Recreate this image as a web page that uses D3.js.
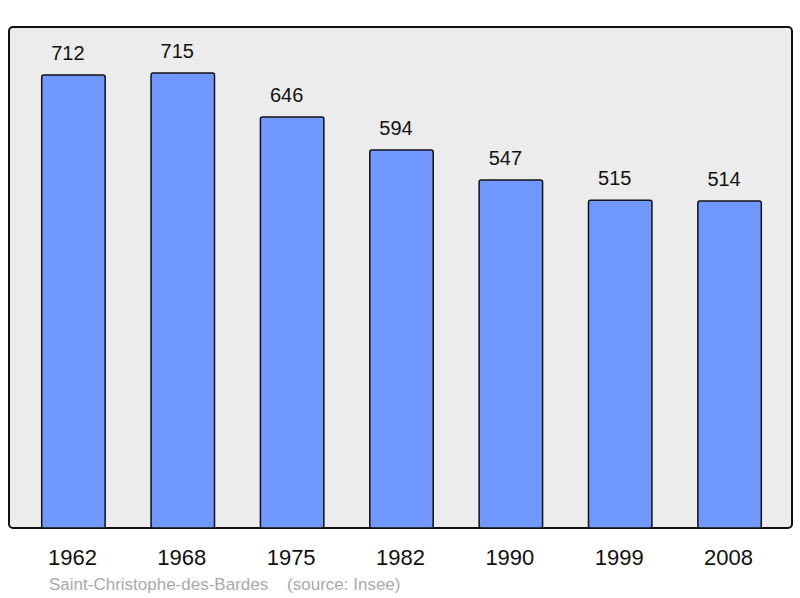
<!DOCTYPE html>
<html><head><meta charset="utf-8">
<script src="https://cdn.jsdelivr.net/npm/d3@7"></script>
<style>body{margin:0;background:#fff}svg{display:block}</style>
</head><body>
<script>
const years = ["1962","1968","1975","1982","1990","1999","2008"];
const population = [712,715,646,594,547,515,514];
const caption = "Saint-Christophe-des-Bardes    (source: Insee)";

(function(){
const W=800,H=598;
const svg=d3.select("body").append("svg").attr("width",W).attr("height",H);
const pL=9,pR=792,pT=27,pB=528;
svg.append("rect").attr("x",pL).attr("y",pT).attr("width",pR-pL).attr("height",pB-pT)
  .attr("rx",4).attr("fill","#ececec").attr("stroke","#111").attr("stroke-width",2);
const x=d3.scaleBand().domain(years).range([pL+1,pR+1]).paddingInner(0.42).paddingOuter(0.29);
const y=d3.scaleLinear().domain([0,715]).range([pB,73]);
const data=years.map((yr,i)=>({yr,v:population[i]}));
svg.selectAll("rect.bar").data(data).join("rect").attr("class","bar")
  .attr("x",d=>x(d.yr)).attr("width",x.bandwidth()).attr("y",d=>y(d.v)).attr("height",d=>pB-y(d.v))
  .attr("rx",2).attr("fill","#7098ff").attr("stroke","#111").attr("stroke-width",1.5);
svg.selectAll("text.val").data(data).join("text").attr("class","val")
  .attr("x",d=>x(d.yr)+x.bandwidth()/2-5.5).attr("y",d=>y(d.v)-15).attr("text-anchor","middle")
  .attr("font-family","Liberation Sans, Arial, sans-serif").attr("font-size",20).attr("fill","#111").text(d=>d.v);
svg.selectAll("text.yr").data(years).join("text").attr("class","yr")
  .attr("x",d=>x(d)+x.bandwidth()/2-1).attr("y",565).attr("text-anchor","middle")
  .attr("font-family","Liberation Sans, Arial, sans-serif").attr("font-size",22).attr("fill","#111").text(d=>d);
svg.append("text").attr("x",49).attr("y",590).style("white-space","pre")
  .attr("font-family","Liberation Sans, Arial, sans-serif").attr("font-size",17).attr("fill","#aaa").text(caption);
})();
</script>
</body></html>
